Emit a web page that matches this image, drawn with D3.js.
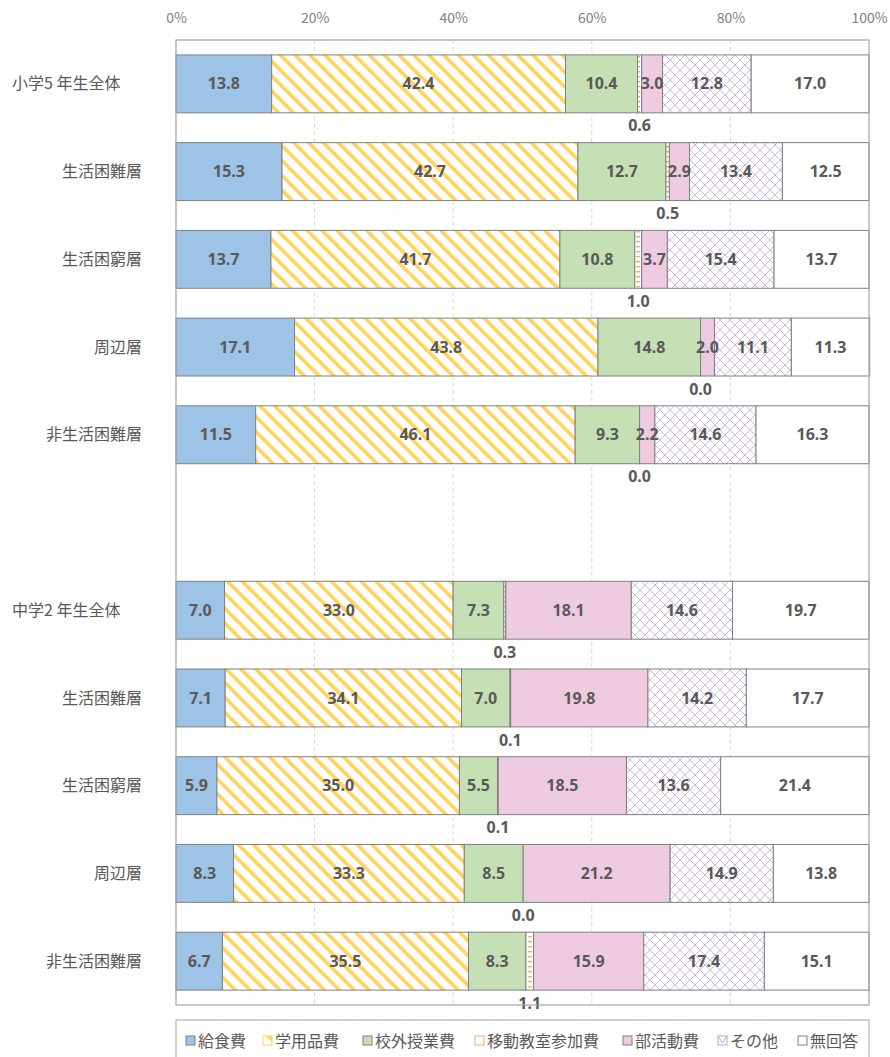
<!DOCTYPE html>
<html>
<head>
<meta charset="utf-8">
<script src="https://cdn.jsdelivr.net/npm/d3@7"></script>
<style>
	body { margin: 0; background: #fff; }
	svg { display: block; font-family: "Noto Sans CJK JP", "Noto Sans", sans-serif; }
</style>
</head>
<body>
<svg id="chart" width="890" height="1057"></svg>
<script>
// categories (null = empty slot between the two groups)
var categories = ["小学5 年生全体", "生活困難層", "生活困窮層", "周辺層", "非生活困難層", null,
	"中学2 年生全体", "生活困難層", "生活困窮層", "周辺層", "非生活困難層"];
var seriesNames = ["給食費", "学用品費", "校外授業費", "移動教室参加費", "部活動費", "その他", "無回答"];

// values per series, one per category slot
var kyushoku = [13.8, 15.3, 13.7, 17.1, 11.5, null, 7.0, 7.1, 5.9, 8.3, 6.7];
var gakuyo   = [42.4, 42.7, 41.7, 43.8, 46.1, null, 33.0, 34.1, 35.0, 33.3, 35.5];
var kogai    = [10.4, 12.7, 10.8, 14.8, 9.3, null, 7.3, 7.0, 5.5, 8.5, 8.3];
var idou     = [0.6, 0.5, 1.0, 0.0, 0.0, null, 0.3, 0.1, 0.1, 0.0, 1.1];
var bukatsu  = [3.0, 2.9, 3.7, 2.0, 2.2, null, 18.1, 19.8, 18.5, 21.2, 15.9];
var sonota   = [12.8, 13.4, 15.4, 11.1, 14.6, null, 14.6, 14.2, 13.6, 14.9, 17.4];
var mukaito  = [17.0, 12.5, 13.7, 11.3, 16.3, null, 19.7, 17.7, 21.4, 13.8, 15.1];
var seriesValues = [kyushoku, gakuyo, kogai, idou, bukatsu, sonota, mukaito];

var tickValues = [0, 20, 40, 60, 80, 100];

var svg = d3.select("#chart");
var textColor = "#595959";

// Patterns
var defs = svg.append("defs");

var stripe = defs.append("pattern").attr("id", "pat-stripe")
	.attr("patternUnits", "userSpaceOnUse").attr("width", 10.5).attr("height", 10.5)
	.attr("patternTransform", "rotate(-45)");
stripe.append("rect").attr("width", 10.5).attr("height", 10.5).attr("fill", "#fff");
stripe.append("rect").attr("x", 0).attr("width", 3.6).attr("height", 10.5).attr("fill", "#ffd35c");

var dash = defs.append("pattern").attr("id", "pat-dash")
	.attr("patternUnits", "userSpaceOnUse").attr("width", 6).attr("height", 5);
dash.append("rect").attr("width", 6).attr("height", 5).attr("fill", "#fff");
dash.append("rect").attr("x", 0).attr("y", 1).attr("width", 4).attr("height", 1.4).attr("fill", "#f4a977");

var lattice = defs.append("pattern").attr("id", "pat-lattice")
	.attr("patternUnits", "userSpaceOnUse").attr("width", 10).attr("height", 10);
lattice.append("rect").attr("width", 10).attr("height", 10).attr("fill", "#fff");
lattice.append("path").attr("d", "M0,0 L10,10 M10,0 L0,10")
	.attr("stroke", "#cdbbe6").attr("stroke-width", 1).attr("fill", "none");

var fills = ["#9dc3e6", "url(#pat-stripe)", "#c5e0b4", "url(#pat-dash)", "#efcbe1", "url(#pat-lattice)", "#ffffff"];
var legendFills = ["#9dc3e6", "#ffd35c", "#c5e0b4", "#f4a977", "#efcbe1", "#b9a3d9", "#ffffff"];

// Scales
var plot = {left: 176, right: 869, top: 40, bottom: 1005};
var x = d3.scaleLinear().domain([0, 100]).range([plot.left, plot.right]);
var y = d3.scaleBand().domain(d3.range(categories.length))
	.range([plot.top, plot.bottom]).paddingInner(0.34).paddingOuter(0.17);

// Gridlines
svg.append("g").selectAll("line").data(tickValues.slice(1, -1)).join("line")
	.attr("x1", function(d) { return x(d); }).attr("x2", function(d) { return x(d); })
	.attr("y1", plot.top).attr("y2", plot.bottom)
	.attr("stroke", "#d9d9d9").attr("stroke-dasharray", "4,3");

// Top axis labels
var axis = d3.axisTop(x).tickValues(tickValues).tickFormat(function(d) { return d + "%"; }).tickSize(0);
var gAxis = svg.append("g").attr("transform", "translate(0,26)").call(axis);
gAxis.select(".domain").remove();
gAxis.selectAll("text").attr("fill", "#7f7f7f").style("font-size", "14px")
	.style("font-family", "'Noto Sans CJK JP', sans-serif");

// Stack data
var rows = [];
categories.forEach(function(cat, i) {
	if (cat === null) return;
	var acc = 0;
	seriesValues.forEach(function(vals, s) {
		rows.push({slot: i, series: s, x0: acc, x1: acc + vals[i], value: vals[i]});
		acc += vals[i];
	});
});

// Bars
svg.append("g").selectAll("rect").data(rows).join("rect")
	.attr("x", function(d) { return x(d.x0); })
	.attr("y", function(d) { return y(d.slot); })
	.attr("width", function(d) { return x(d.x1) - x(d.x0); })
	.attr("height", y.bandwidth())
	.attr("fill", function(d) { return fills[d.series]; })
	.attr("stroke", "#808080").attr("stroke-width", 1);

// Value labels (移動教室参加費 labels sit under the bar)
svg.append("g").selectAll("text").data(rows).join("text")
	.attr("x", function(d) { return x((d.x0 + d.x1) / 2); })
	.attr("y", function(d) {
		if (d.series === 3) return y(d.slot) + y.bandwidth() + 13;
		return y(d.slot) + y.bandwidth() / 2;
	})
	.attr("dy", "0.35em")
	.attr("text-anchor", "middle")
	.attr("fill", textColor)
	.style("font-size", "16px").style("font-weight", "bold")
	.style("font-family", "'Noto Sans', sans-serif")
	.text(function(d) { return d.value.toFixed(1); });

// Plot border
svg.append("rect").attr("x", plot.left).attr("y", plot.top)
	.attr("width", plot.right - plot.left).attr("height", plot.bottom - plot.top)
	.attr("fill", "none").attr("stroke", "#a6a6a6").attr("stroke-width", 1.2);

// Category labels
svg.append("g").selectAll("text").data(categories.map(function(c, i) { return {c: c, i: i}; })
		.filter(function(d) { return d.c !== null; })).join("text")
	.attr("x", function(d) { return d.c.indexOf("全体") >= 0 ? 12 : 142; })
	.attr("y", function(d) { return y(d.i) + y.bandwidth() / 2; })
	.attr("dy", "0.35em")
	.attr("text-anchor", function(d) { return d.c.indexOf("全体") >= 0 ? "start" : "end"; })
	.attr("fill", textColor).style("font-size", "16px")
	.text(function(d) { return d.c; });

// Legend
svg.append("rect").attr("x", plot.left).attr("y", 1020).attr("width", plot.right - plot.left).attr("height", 50)
	.attr("fill", "#fff").attr("stroke", "#a6a6a6").attr("stroke-width", 1);
var legendX = [186, 263, 363, 475, 623, 718, 798];
var leg = svg.append("g").selectAll("g").data(seriesNames).join("g")
	.attr("transform", function(d, i) { return "translate(" + legendX[i] + ",1041)"; });
leg.append("rect").attr("x", 0).attr("y", -5).attr("width", 9).attr("height", 9)
	.attr("fill", function(d, i) { return i === 6 || i === 1 || i === 3 || i === 5 ? "#fff" : legendFills[i]; })
	.attr("stroke", function(d, i) { return i === 6 ? "#808080" : (i === 1 || i === 3 || i === 5 ? legendFills[i] : "#808080"); })
	.attr("stroke-width", 1);
leg.filter(function(d, i) { return i === 1; }).append("path")
	.attr("d", "M3,-5 L9,1 L9,-5 Z").attr("fill", "#ffd35c");
leg.filter(function(d, i) { return i === 5; }).append("path")
	.attr("d", "M0,-5 L4.5,2 L9,-5").attr("fill", "none").attr("stroke", "#b9a3d9");
leg.append("text").attr("x", 12).attr("dy", "0.35em").attr("fill", textColor)
	.style("font-size", "16px").text(function(d) { return d; });
</script>
</body>
</html>
